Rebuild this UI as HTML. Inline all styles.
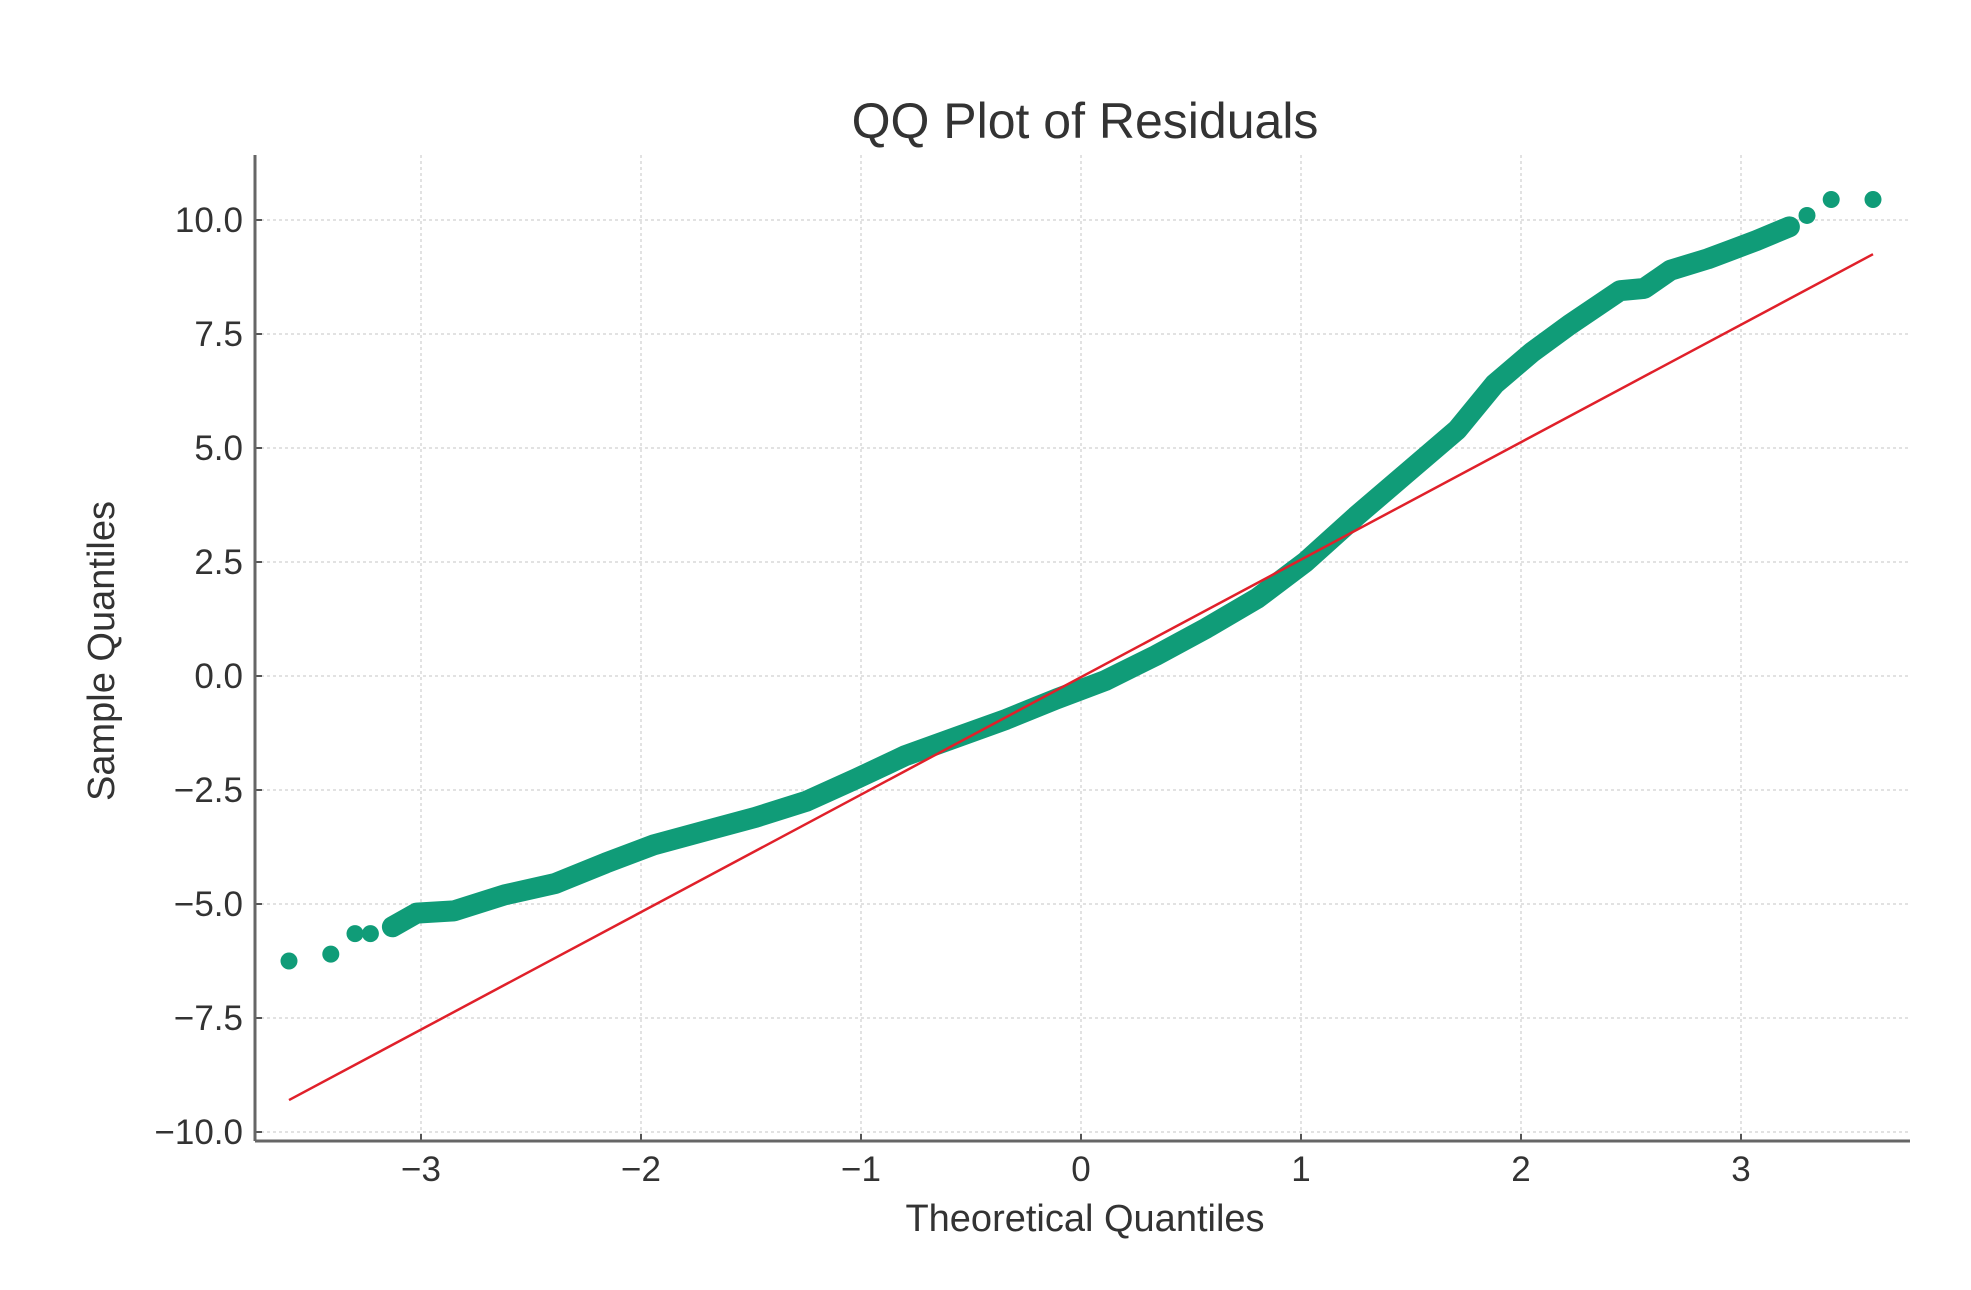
<!DOCTYPE html>
<html><head><meta charset="utf-8"><style>
html,body{margin:0;padding:0;background:#fff;}
svg{display:block;font-family:"Liberation Sans","DejaVu Sans",sans-serif;}
</style></head><body>
<svg id="chart" width="1971" height="1290" viewBox="0 0 1971 1290" xmlns="http://www.w3.org/2000/svg">
<rect width="1971" height="1290" fill="#fff"/>
<text x="1085" y="138" font-size="50" fill="#333" text-anchor="middle">QQ Plot of Residuals</text>
<g id="grid"></g>
<g id="axes"></g>
<g id="marks"></g>
<text x="1085" y="1231" font-size="38" fill="#333" text-anchor="middle">Theoretical Quantiles</text>
<text transform="translate(114,651) rotate(-90)" font-size="38" fill="#333" text-anchor="middle">Sample Quantiles</text>
</svg>
<script>
const xTicks = [-3, -2, -1, 0, 1, 2, 3];
const xTickLabels = ["\u22123", "\u22122", "\u22121", "0", "1", "2", "3"];
const yTicks = [-10, -7.5, -5, -2.5, 0, 2.5, 5, 7.5, 10];
const yTickLabels = ["\u221210.0", "\u22127.5", "\u22125.0", "\u22122.5", "0.0", "2.5", "5.0", "7.5", "10.0"];
const theoretical = [-3.6,-3.41,-3.3,-3.23,-3.13,-3.02,-2.85,-2.62,-2.39,-2.16,-1.94,-1.71,-1.48,-1.25,-1.02,-0.8,-0.57,-0.34,-0.11,0.11,0.34,0.57,0.8,1.02,1.25,1.48,1.71,1.88,2.05,2.22,2.45,2.56,2.68,2.85,2.96,3.07,3.22,3.3,3.41,3.6];
const sample = [-6.25,-6.1,-5.65,-5.65,-5.5,-5.2,-5.15,-4.8,-4.55,-4.1,-3.7,-3.4,-3.1,-2.75,-2.25,-1.75,-1.35,-0.95,-0.5,-0.1,0.45,1.05,1.7,2.5,3.5,4.45,5.4,6.4,7.1,7.7,8.45,8.5,8.9,9.15,9.35,9.55,9.85,10.1,10.45,10.45];
const refLineX = [-3.6, 3.6];
const refLineY = [-9.3, 9.25];

const NS = "http://www.w3.org/2000/svg";
const X0 = 1081, XU = 220, Y10 = 220, YU = 45.6;
function sx(v){ return X0 + v * XU; }
function sy(v){ return Y10 + (10 - v) * YU; }
const plotL = 255, plotR = 1910, plotT = 155, plotB = 1141;
function mk(tag, attrs, parent){ const e = document.createElementNS(NS, tag); for (const k in attrs) e.setAttribute(k, attrs[k]); parent.appendChild(e); return e; }
const grid = document.getElementById('grid'), axes = document.getElementById('axes'), marks = document.getElementById('marks');

xTicks.forEach((t, i) => {
  const g = mk('line', {x1: sx(t), x2: sx(t), y1: plotT, y2: plotB, stroke: '#e2e2e2', 'stroke-width': 2, 'stroke-dasharray': '3,3'}, grid);
  
  
  const tk = mk('line', {x1: sx(t), x2: sx(t), y1: plotB, y2: plotB - 7, stroke: '#555', 'stroke-width': 2}, axes);
  
  
  const lb = mk('text', {x: sx(t), y: plotB + 40, 'font-size': 35, fill: '#333', 'text-anchor': 'middle'}, axes);
  lb.textContent = xTickLabels[i];
  
  
});
yTicks.forEach((t, i) => {
  const g = mk('line', {x1: plotL, x2: plotR, y1: sy(t), y2: sy(t), stroke: '#e2e2e2', 'stroke-width': 2, 'stroke-dasharray': '3,3'}, grid);
  
  
  const tk = mk('line', {x1: plotL, x2: plotL + 7, y1: sy(t), y2: sy(t), stroke: '#555', 'stroke-width': 2}, axes);
  
  
  const lb = mk('text', {x: plotL - 12, y: sy(t) + 12, 'font-size': 35, fill: '#333', 'text-anchor': 'end'}, axes);
  lb.textContent = yTickLabels[i];
  
  
});
const ls = mk('line', {x1: plotL, x2: plotL, y1: plotT, y2: plotB, stroke: '#666', 'stroke-width': 3}, axes);


const bs = mk('line', {x1: plotL, x2: plotR, y1: plotB, y2: plotB, stroke: '#666', 'stroke-width': 3}, axes);



let d = '';
theoretical.forEach((t, i) => { if (i >= 4 && i <= 36) d += (d ? 'L' : 'M') + sx(t) + ',' + sy(sample[i]); });
const band = mk('path', {d: d, fill: 'none', stroke: '#109c78', 'stroke-width': 21, 'stroke-linejoin': 'round', 'stroke-linecap': 'round'}, marks);


theoretical.forEach((t, i) => {
  const c = mk('circle', {cx: sx(t), cy: sy(sample[i]), r: 8.5, fill: '#109c78'}, marks);
  
  
});
const rl = mk('line', {x1: sx(refLineX[0]), y1: sy(refLineY[0]), x2: sx(refLineX[1]), y2: sy(refLineY[1]), stroke: '#e0202a', 'stroke-width': 2.5}, marks);


</script>
</body></html>
